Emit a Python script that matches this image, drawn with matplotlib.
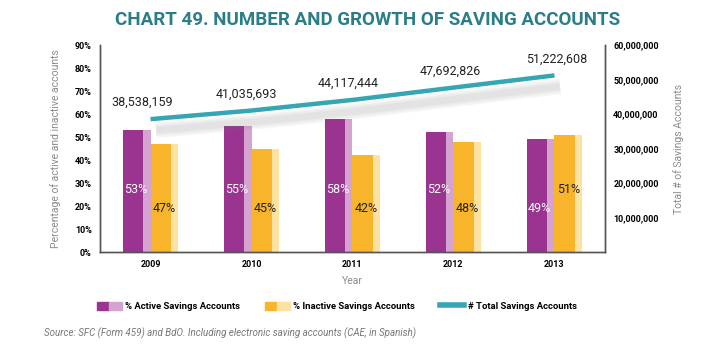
import numpy as np
import matplotlib.pyplot as plt
import matplotlib.patheffects as pe
from matplotlib.patches import Patch
from matplotlib.lines import Line2D
from matplotlib.legend_handler import HandlerTuple

years = ['2009', '2010', '2011', '2012', '2013']
active_pct = [53, 55, 58, 52, 49]
inactive_pct = [47, 45, 42, 48, 51]
total_accounts = [38538159, 41035693, 44117444, 47692826, 51222608]

FONT = ['Roboto', 'DejaVu Sans']
teal = '#35a6b2'
purple, purple_lt = '#9a3490', '#d5a3cf'
yellow, yellow_lt = '#f8b52c', '#fde2a2'
gray_txt = '#8a8a8a'

fig = plt.figure(figsize=(7.28, 3.5), dpi=100)
ax = fig.add_axes([0.1374, 0.28, 0.6936, 0.591])
ax2 = ax.twinx()

x = np.arange(len(years))
face_w, side_w = 0.205, 0.07
# active bars (left of center) with lighter side strip
ax.bar(x - 0.277 + face_w / 2, active_pct, face_w, color=purple, zorder=2)
ax.bar(x - side_w / 2, active_pct, side_w, color=purple_lt, zorder=2)
# inactive bars (right of center)
ax.bar(x + face_w / 2, inactive_pct, face_w, color=yellow, zorder=2)
ax.bar(x + face_w + side_w / 2, inactive_pct, side_w, color=yellow_lt, zorder=2)

for i in range(len(years)):
    a, b = active_pct[i], inactive_pct[i]
    ya = 27 if a > b else 19
    yb = 27 if b > a else 19
    ax.text(x[i] - 0.15, ya, f'{a}%', ha='center', va='center', color='white',
            fontsize=9, family=FONT, zorder=3)
    ax.text(x[i] + 0.14, yb, f'{b}%', ha='center', va='center', color='#222222',
            fontsize=9, family=FONT, zorder=3)

ax.set_xlim(-0.5, 4.5)
ax.set_ylim(0, 90)
ax.set_yticks(range(0, 91, 10))
ax.set_yticklabels([f'{v}%' for v in range(0, 91, 10)], fontsize=6.5, fontweight='bold', family=FONT)
ax.set_xticks(x)
ax.set_xticklabels(years, fontsize=6.5, fontweight='bold', family=FONT)
ax.tick_params(length=0, pad=6)
ax.set_xlabel('Year', fontsize=7.5, color=gray_txt, family=FONT, labelpad=5)
ax.set_ylabel('Percentage of active and inactive accounts', fontsize=7.5, color=gray_txt,
              family=FONT, labelpad=10)

# soft shadow under the total line
shadow = [pe.SimpleLineShadow(offset=(4, -8), shadow_color='#777777', alpha=0.07, linewidth=w)
          for w in (11, 8, 5)]
ax2.plot(x, total_accounts, color=teal, lw=3.2, solid_capstyle='butt', zorder=4,
         path_effects=shadow + [pe.Normal()])
label_dx = [-0.08, -0.05, -0.04, -0.03, 0.02]
for i, v in enumerate(total_accounts):
    ax2.text(x[i] + label_dx[i], v + 2.9e6, f'{v:,}', ha='center', va='bottom',
             fontsize=9, family=FONT, color='#222222')
ax2.set_ylim(0, 60e6)
ax2.set_yticks(np.arange(10e6, 60.1e6, 10e6))
ax2.set_yticklabels([f'{int(v):,}' for v in np.arange(10e6, 60.1e6, 10e6)],
                    fontsize=6.5, fontweight='bold', family=FONT)
ax2.tick_params(length=0, pad=6)
ax2.set_ylabel('Total # of Savings Accounts', fontsize=7.5, color=gray_txt, family=FONT, labelpad=10)

for a_ in (ax, ax2):
    a_.spines['top'].set_visible(False)
    for s in ('left', 'right', 'bottom'):
        a_.spines[s].set_color('#555555')
        a_.spines[s].set_linewidth(1.0)

fig.text(0.505, 0.943, 'CHART 49. NUMBER AND GROWTH OF SAVING ACCOUNTS', ha='center', va='center',
         fontsize=13.5, fontweight='bold', color='#2b7d88', family=FONT)

handles = [(Patch(color=purple), Patch(color=purple_lt)),
           (Patch(color=yellow), Patch(color=yellow_lt)),
           Line2D([], [], color=teal, lw=4)]
labels = ['% Active Savings Accounts', '% Inactive Savings Accounts', '# Total Savings Accounts']
fig.legend(handles, labels, loc='center', bbox_to_anchor=(0.463, 0.125), ncol=3, frameon=False,
           prop={'family': FONT, 'size': 6.8, 'weight': 'bold'}, handlelength=2.6,
           handleheight=0.9, columnspacing=2.6, handletextpad=0.4,
           handler_map={tuple: HandlerTuple(ndivide=None, pad=0.0)})

fig.text(0.06, 0.048, 'Source: SFC (Form 459) and BdO. Including electronic saving accounts (CAE, in Spanish)',
         fontsize=7, style='italic', color='#777777', family=FONT, va='center')

fig.savefig('out.png', dpi=100)
